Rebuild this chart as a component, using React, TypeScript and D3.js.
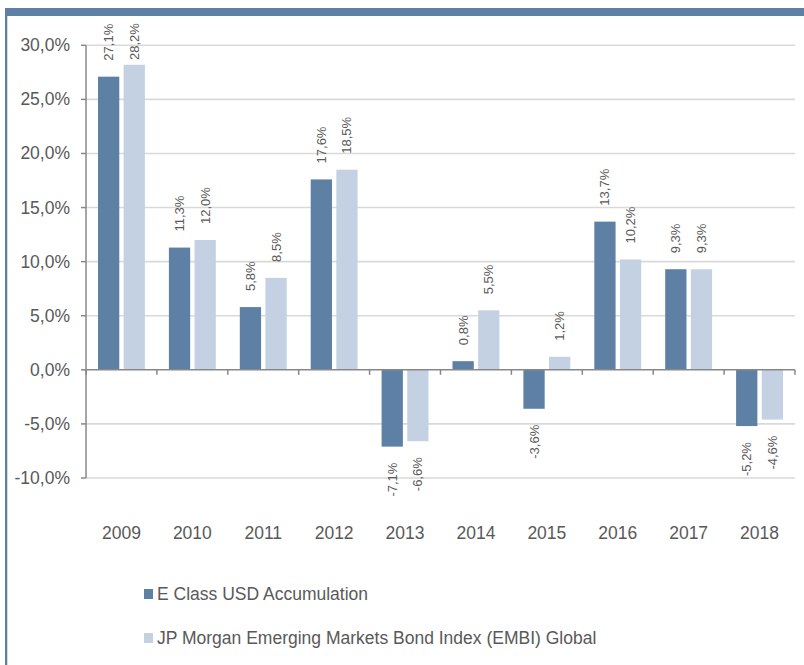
import React from "react";
import * as d3 from "d3";

const years = ["2009", "2010", "2011", "2012", "2013", "2014", "2015", "2016", "2017", "2018"];
const eClass = [27.1, 11.3, 5.8, 17.6, -7.1, 0.8, -3.6, 13.7, 9.3, -5.2];
const embi = [28.2, 12.0, 8.5, 18.5, -6.6, 5.5, 1.2, 10.2, 9.3, -4.6];
const seriesNames = ["E Class USD Accumulation", "JP Morgan Emerging Markets Bond Index (EMBI) Global"];
const seriesColors = ["#5d80a4", "#c4d1e3"];
const yTicks = [-10, -5, 0, 5, 10, 15, 20, 25, 30];

const W = 804;
const H = 665;
const FONT = "'Liberation Sans', Arial, sans-serif";
const TXT = "#595959";

const fmt = (v: number) => v.toFixed(1).replace(".", ",") + "%";

export default function App() {
  const left = 86;
  const right = 795;
  const y = d3.scaleLinear().domain([-10, 30]).range([478, 45.3]);
  const x = d3.scaleBand<string>().domain(years).range([left, right]).padding(0);
  const step = x.bandwidth();
  const inner = d3
    .scaleBand<string>()
    .domain(["a", "b"])
    .range([12, step - 12])
    .paddingInner(0.17);
  const bw = inner.bandwidth();
  const y0 = y(0);
  const series = [eClass, embi];
  const keys = ["a", "b"];

  return (
    <svg
      width={W}
      height={H}
      style={{ position: "absolute", left: 0, top: 0, background: "#fff" }}
      fontFamily={FONT}
    >
      {/* frame */}
      <rect x={5} y={8} width={W - 5} height={8} fill="#5d80a4" />
      <rect x={5} y={8} width={2.3} height={H - 8} fill="#5d80a4" />

      {/* gridlines */}
      {yTicks
        .filter((t) => t !== 0)
        .map((t) => (
          <line key={"g" + t} x1={left} x2={right} y1={y(t)} y2={y(t)} stroke="#d9d9d9" strokeWidth={1.6} />
        ))}

      {/* bars */}
      {years.map((yr, i) =>
        series.map((s, si) => {
          const v = s[i];
          const bx = (x(yr) as number) + (inner(keys[si]) as number);
          const top = Math.min(y(v), y0);
          const h = Math.abs(y(v) - y0);
          return <rect key={yr + si} x={bx} y={top} width={bw} height={h} fill={seriesColors[si]} />;
        })
      )}

      {/* value labels */}
      {years.map((yr, i) =>
        series.map((s, si) => {
          const v = s[i];
          const cx = (x(yr) as number) + (inner(keys[si]) as number) + bw / 2;
          let ly: number;
          let anchor: "start" | "end";
          if (v >= 0) {
            ly = Math.max(y(v) - 16, 60);
            anchor = "start";
          } else {
            ly = y(v) + 16;
            anchor = "end";
          }
          return (
            <text
              key={"l" + yr + si}
              transform={`translate(${cx},${ly}) rotate(-90)`}
              textAnchor={anchor}
              dominantBaseline="central"
              fontSize={13}
              fill={TXT}
            >
              {fmt(v)}
            </text>
          );
        })
      )}

      {/* y axis */}
      <line x1={left} x2={left} y1={y(30)} y2={y(-10)} stroke="#888" strokeWidth={1.5} />
      {yTicks.map((t) => (
        <g key={"t" + t}>
          <line x1={left - 5} x2={left} y1={y(t)} y2={y(t)} stroke="#888" strokeWidth={1.5} />
          <text x={70} y={y(t)} textAnchor="end" dominantBaseline="central" fontSize={17.5} fill={TXT}>
            {fmt(t)}
          </text>
        </g>
      ))}

      {/* x axis at zero */}
      <line x1={left} x2={right} y1={y0} y2={y0} stroke="#888" strokeWidth={1.5} />
      {[...years.map((yr) => x(yr) as number), right].map((px, i) => (
        <line key={"xt" + i} x1={px} x2={px} y1={y0} y2={y0 + 5} stroke="#888" strokeWidth={1.5} />
      ))}
      {years.map((yr) => (
        <text
          key={"c" + yr}
          x={(x(yr) as number) + step / 2}
          y={533}
          textAnchor="middle"
          dominantBaseline="central"
          fontSize={17.5}
          fill={TXT}
        >
          {yr}
        </text>
      ))}

      {/* legend */}
      {seriesNames.map((n, i) => (
        <g key={"lg" + i} transform={`translate(144,${594 + i * 44})`}>
          <rect x={0} y={-5} width={9} height={10} fill={seriesColors[i]} />
          <text x={13} y={0} dominantBaseline="central" fontSize={17.5} fill={TXT}>
            {n}
          </text>
        </g>
      ))}
    </svg>
  );
}
